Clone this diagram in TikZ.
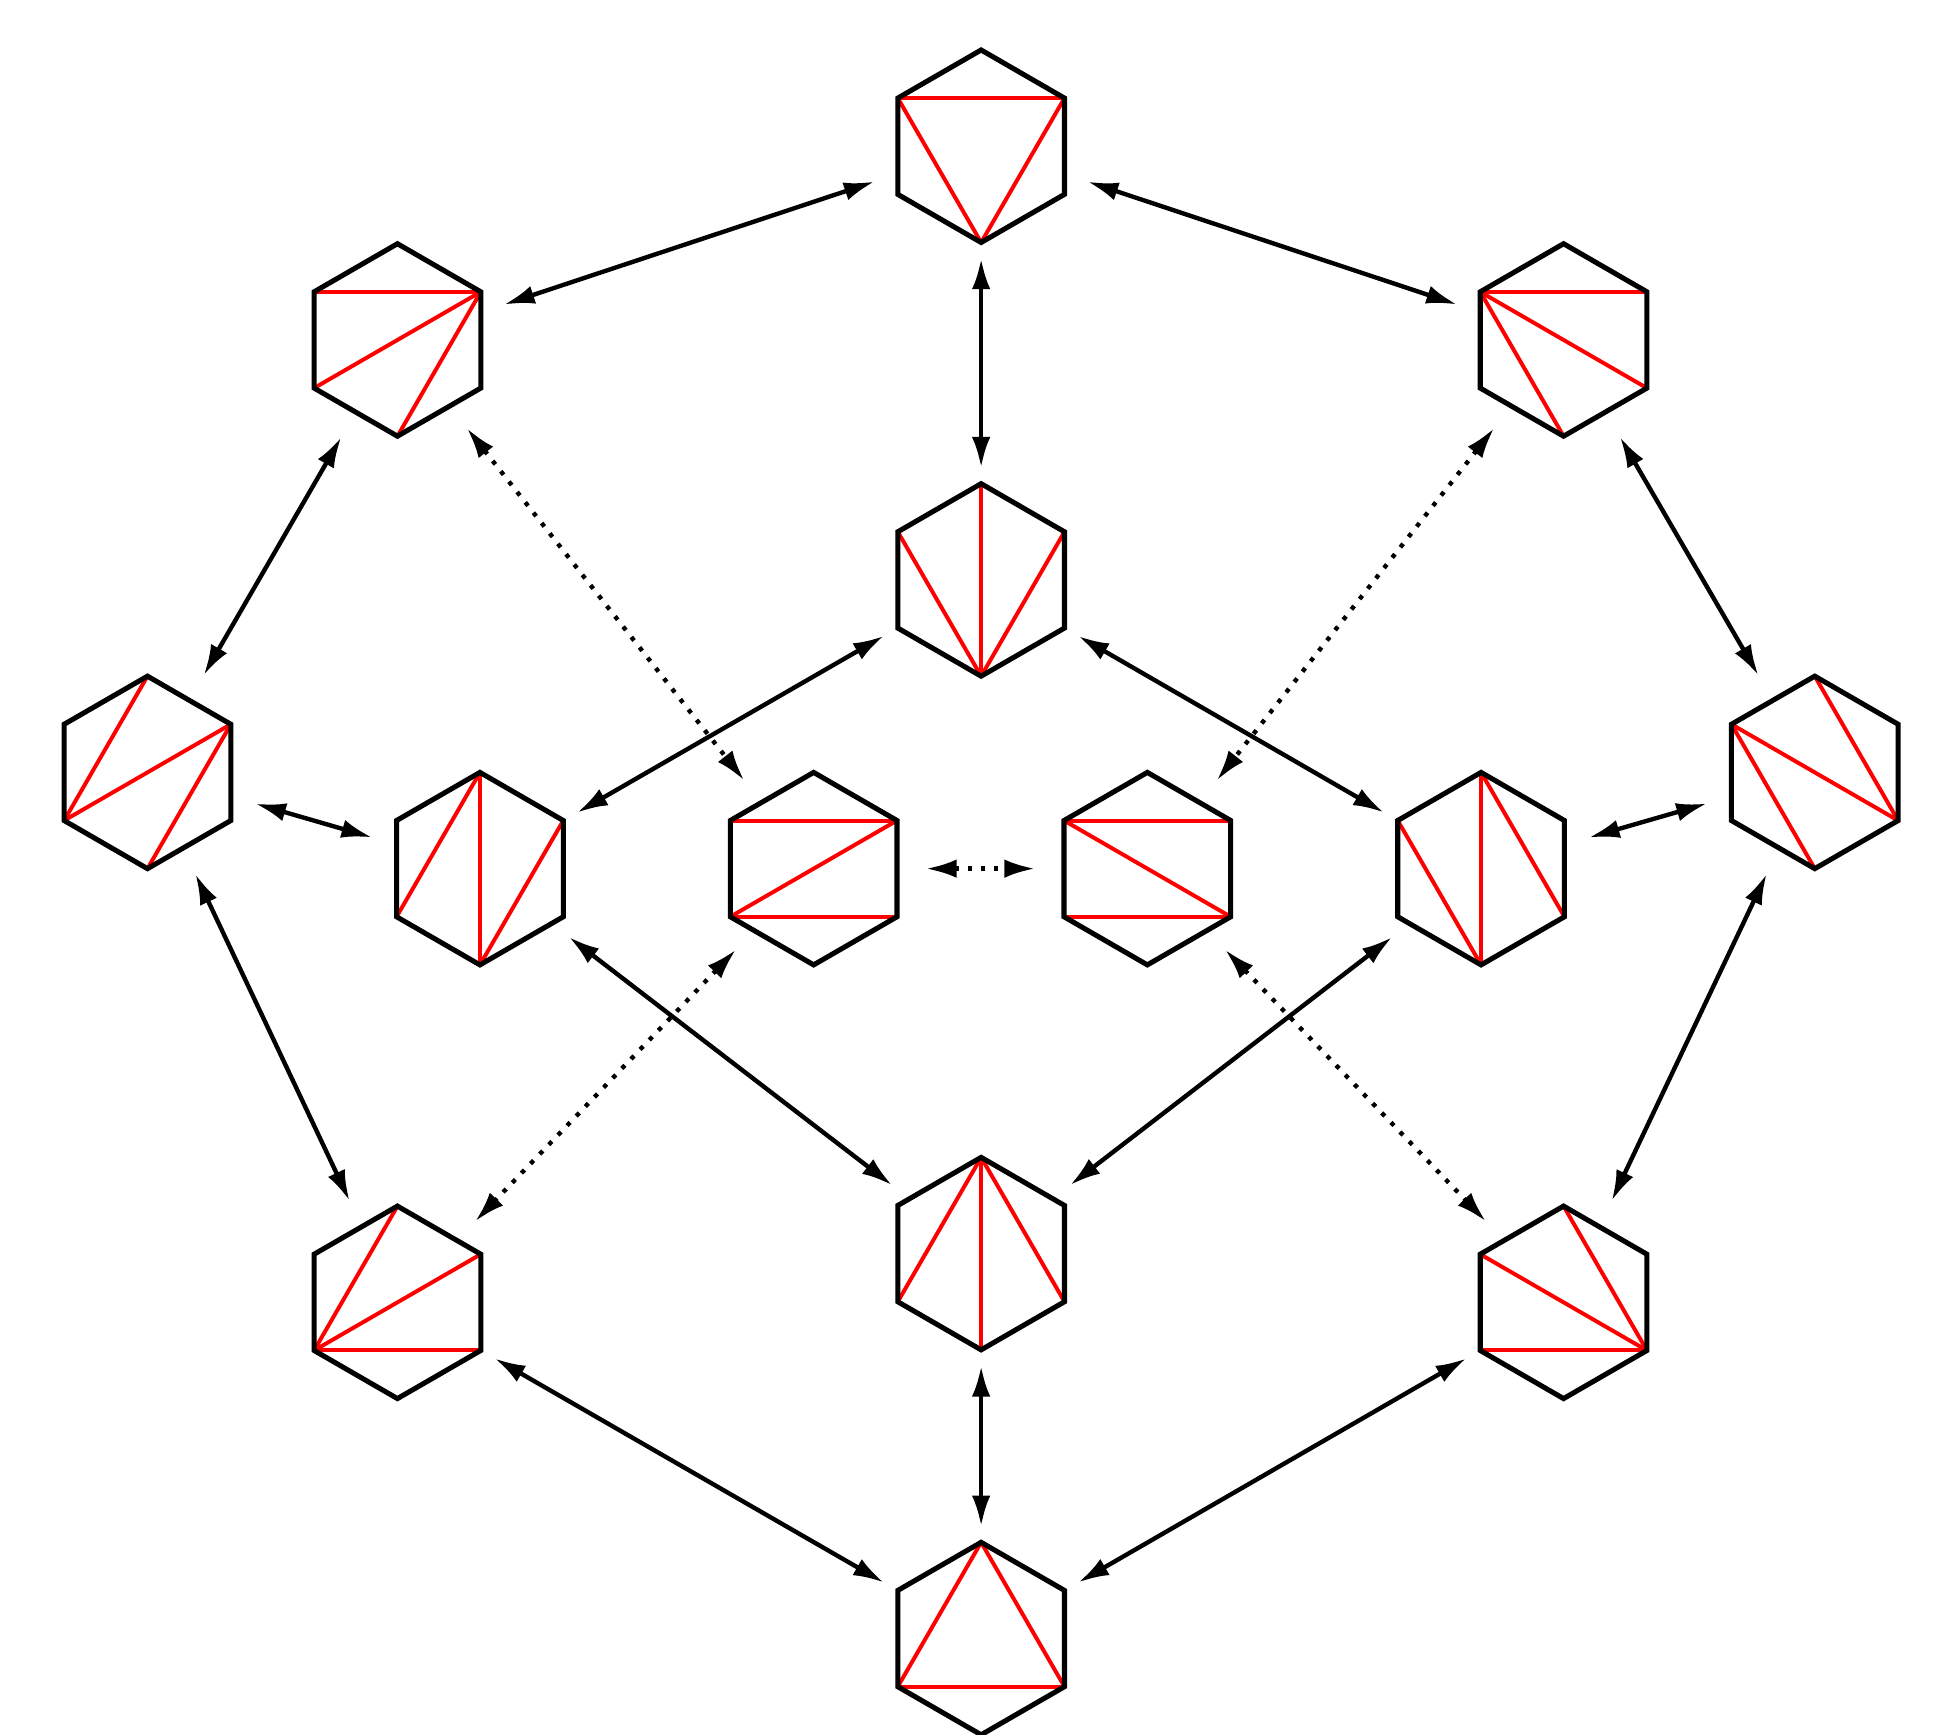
\documentclass[tikz,border=0pt]{standalone}
\usetikzlibrary{arrows.meta}
\tikzset{
 hexline/.style={line width=1.15pt, line join=miter},
 diag/.style={red, line width=0.9pt},
 hub/.style={circle, minimum size=1.78cm, inner sep=0pt},
 link/.style={line width=1pt, {Latex[length=7pt,width=4.2pt]}-{Latex[length=7pt,width=4.2pt]}},
 dlink/.style={link, dotted}
}
\newcommand\hx[4]{%
 \node[hub] (#1) at (#2,#3) {};
 \foreach \i in {0,...,5}{\coordinate (#1-\i) at ({#2+77*cos(90-60*\i)},{#3-77*sin(90-60*\i)});}
 \foreach \a/\b in {#4}{\draw[diag] (#1-\a) -- (#1-\b);}
 \draw[hexline] (#1-0)--(#1-1)--(#1-2)--(#1-3)--(#1-4)--(#1-5)--cycle;
}
\begin{document}
\begin{tikzpicture}[x=0.01cm,y=-0.01cm]
\useasboundingbox (0,0) rectangle (1561,1388);
\hx{h1}{785}{117}{5/1,5/3,1/3}
\hx{h2}{318}{272}{5/1,1/4,1/3}
\hx{h3}{1251}{272}{5/1,5/2,5/3}
\hx{h4}{785}{464}{0/3,5/3,1/3}
\hx{h5}{118}{618}{0/4,1/4,1/3}
\hx{h6}{384}{695}{0/3,0/4,3/1}
\hx{h7}{651}{695}{5/1,1/4,4/2}
\hx{h8}{918}{695}{5/1,5/2,4/2}
\hx{h9}{1185}{695}{0/3,0/2,5/3}
\hx{h10}{1452}{618}{5/2,5/3,0/2}
\hx{h11}{318}{1042}{0/4,4/1,4/2}
\hx{h12}{785}{1003}{0/3,0/4,0/2}
\hx{h13}{1251}{1042}{0/2,5/2,4/2}
\hx{h14}{785}{1311}{0/4,0/2,4/2}
\foreach \a/\b in {h1/h2,h1/h3,h1/h4,h2/h5,h3/h10,h4/h6,h4/h9,h5/h6,h10/h9,h5/h11,h10/h13,h6/h12,h9/h12,h11/h14,h13/h14,h12/h14}
  \draw[link] (\a) -- (\b);
\foreach \a/\b in {h2/h7,h3/h8,h7/h11,h8/h13}
  \draw[dlink] (\a) -- (\b);
\draw[dlink] (h7) -- (h8);
\end{tikzpicture}
\end{document}
